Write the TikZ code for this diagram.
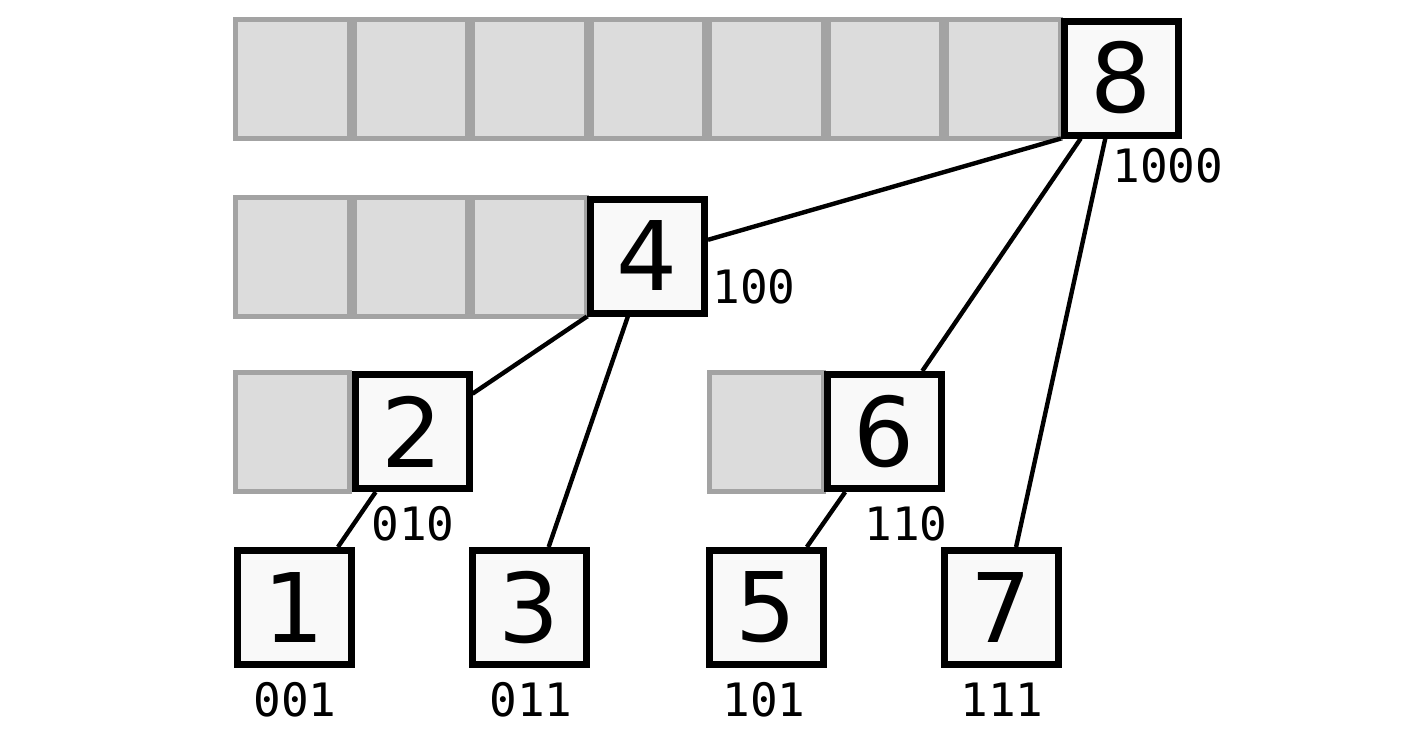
\documentclass[tikz,border=0pt]{standalone}
\usepackage{fontspec}
\setsansfont{DejaVu Sans}
\setmonofont{DejaVu Sans Mono}
\definecolor{cellgray}{HTML}{DCDCDC}
\definecolor{cellline}{HTML}{A3A3A3}
\definecolor{boxfill}{HTML}{F9F9F9}

\begin{document}
\begin{tikzpicture}[
    x = 0.5pt, y = -0.5pt,
    cell/.style = {draw=cellline, fill=cellgray, line width=2.5pt},
    slot/.style = {draw=black, fill=boxfill, line width=3.5pt,
      minimum size=57pt, inner sep=0pt,
      font=\sffamily\fontsize{48}{48}\selectfont},
    code/.style = {inner sep=0pt, anchor=base west,
      font=\ttfamily\fontsize{23}{23}\selectfont},
    link/.style = {line width=2.2pt}
  ]
  \useasboundingbox (0,0) rectangle (1415,735);
  % empty cells of each row
  \foreach \c in {0,...,6}
    \draw[cell] (235.5+118.5*\c,19.5) rectangle +(113.5,119);
  \foreach \c in {0,...,2}
    \draw[cell] (235.5+118.5*\c,197.5) rectangle +(113.5,119);
  \foreach \c in {0,4}
    \draw[cell] (235.5+118.5*\c,372.5) rectangle +(113.5,119);
  % filled slots
  \node[slot] (n8) at (1121.5,78) {8};
  \node[slot] (n4) at (647.5,256) {4};
  \node[slot] (n2) at (412,431.5) {2};
  \node[slot] (n6) at (884.5,431.5) {6};
  \node[slot] (n1) at (294,607.5) {1};
  \node[slot] (n3) at (529,607.5) {3};
  \node[slot] (n5) at (766,607.5) {5};
  \node[slot] (n7) at (1001,607.5) {7};
  % tree links
  \draw[link] (n8.south west) -- (n4.15);
  \draw[link] (n8.-124) -- (n6.58);
  \draw[link] (n8.-105) -- (n7.76);
  \draw[link] (n4.south west) -- (n2.32);
  \draw[link] (n4.-108) -- (n3.72);
  \draw[link] (n2.-121) -- (n1.54);
  \draw[link] (n6.-123) -- (n5.56);
  % binary indices
  \node[code] (b8) at (1112,182) {1000};
  \node[code] (b4) at (712,303) {100};
  \node[code] (b2) at (371,540) {010};
  \node[code] (b6) at (864,540) {110};
  \node[code] (b1) at (253,716) {001};
  \node[code] (b3) at (489,716) {011};
  \node[code] (b5) at (722,716) {101};
  \node[code] (b7) at (960,716) {111};
\end{tikzpicture}
\end{document}
